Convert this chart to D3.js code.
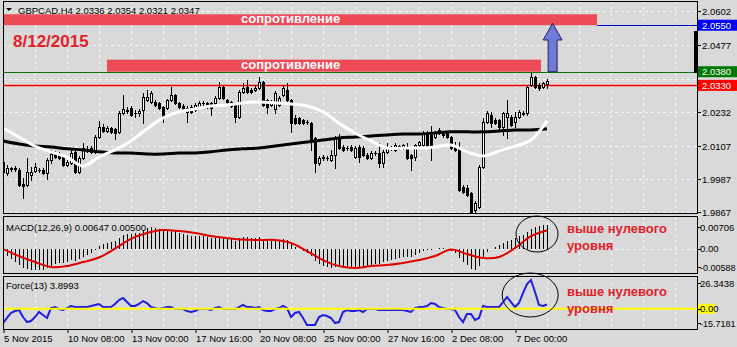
<!DOCTYPE html>
<html><head><meta charset="utf-8">
<script src="https://cdn.jsdelivr.net/npm/d3@7"></script>
<style>
body{margin:0;background:#d9d9d9}
svg{display:block}
text{font-family:"Liberation Sans",Arial,sans-serif}
</style>
</head><body>
<svg id="c" width="737" height="347"></svg>
<script>
// ---------------- DATA ----------------
const titleText = "GBPCAD.H4  2.0336 2.0354 2.0321 2.0347";
const dateText = "8/12/2015";
const zoneLabel = "сопротивление";
const noteLines = ["выше нулевого", "уровня"];

const open = [2.0050,2.0010,2.0025,2.0028,2.0021,1.9970,1.9966,2.0003,2.0017,2.0021,
2.0021,2.0010,2.0057,2.0083,2.0083,2.0068,2.0039,2.0046,2.0087,2.0014,
2.0065,2.0094,2.0101,2.0087,2.0141,2.0178,2.0163,2.0174,2.0171,2.0160,
2.0229,2.0240,2.0247,2.0229,2.0229,2.0240,2.0277,2.0269,2.0269,2.0266,
2.0251,2.0247,2.0277,2.0295,2.0266,2.0255,2.0233,2.0251,2.0240,2.0251,
2.0266,2.0266,2.0266,2.0266,2.0284,2.0324,2.0277,2.0269,2.0258,2.0214,
2.0306,2.0324,2.0313,2.0313,2.0320,2.0342,2.0277,2.0258,2.0244,2.0258,
2.0295,2.0313,2.0277,2.0211,2.0211,2.0203,2.0196,2.0192,2.0138,2.0046,
2.0065,2.0065,2.0057,2.0076,2.0138,2.0105,2.0101,2.0105,2.0068,2.0105,
2.0101,2.0076,2.0065,2.0083,2.0083,2.0046,2.0087,2.0101,2.0094,2.0105,
2.0101,2.0101,2.0076,2.0068,2.0112,2.0112,2.0156,2.0149,2.0141,2.0156,
2.0152,2.0156,2.0141,2.0105,2.0101,1.9959,1.9955,1.9937,1.9874,1.9886,
2.0032,2.0196,2.0222,2.0203,2.0203,2.0178,2.0214,2.0214,2.0196,2.0214,
2.0225,2.0229,2.0331,2.0361,2.0331,2.0324,2.0336];
const close = [2.0014,2.0028,2.0028,2.0025,1.9966,1.9962,2.0014,2.0014,2.0032,2.0020,
2.0010,2.0057,2.0079,2.0068,2.0065,2.0039,2.0050,2.0083,2.0014,2.0065,
2.0101,2.0098,2.0087,2.0141,2.0178,2.0163,2.0174,2.0160,2.0156,2.0229,
2.0244,2.0236,2.0222,2.0228,2.0236,2.0288,2.0288,2.0302,2.0258,2.0247,
2.0214,2.0277,2.0295,2.0266,2.0251,2.0240,2.0247,2.0233,2.0258,2.0266,
2.0265,2.0251,2.0247,2.0284,2.0324,2.0284,2.0269,2.0255,2.0214,2.0306,
2.0320,2.0306,2.0306,2.0320,2.0342,2.0258,2.0251,2.0269,2.0302,2.0284,
2.0320,2.0277,2.0192,2.0192,2.0192,2.0192,2.0195,2.0127,2.0046,2.0065,
2.0068,2.0064,2.0076,2.0138,2.0101,2.0094,2.0100,2.0094,2.0101,2.0068,
2.0076,2.0065,2.0083,2.0082,2.0046,2.0087,2.0105,2.0100,2.0112,2.0108,
2.0112,2.0065,2.0065,2.0112,2.0123,2.0156,2.0105,2.0105,2.0160,2.0167,
2.0149,2.0141,2.0101,2.0094,1.9948,1.9941,1.9930,1.9867,1.9900,2.0032,
2.0196,2.0229,2.0192,2.0192,2.0178,2.0229,2.0229,2.0185,2.0214,2.0233,
2.0229,2.0324,2.0361,2.0324,2.0320,2.0339,2.0347];
const high = [2.0119,2.0039,2.0032,2.0035,2.0028,1.9992,2.0065,2.0032,2.0046,2.0028,
2.0028,2.0065,2.0094,2.0090,2.0087,2.0076,2.0057,2.0094,2.0101,2.0072,
2.0119,2.0108,2.0108,2.0149,2.0200,2.0189,2.0181,2.0178,2.0174,2.0236,
2.0295,2.0251,2.0255,2.0240,2.0244,2.0302,2.0313,2.0309,2.0277,2.0269,
2.0255,2.0280,2.0324,2.0298,2.0269,2.0262,2.0255,2.0258,2.0266,2.0273,
2.0273,2.0269,2.0269,2.0291,2.0342,2.0328,2.0280,2.0273,2.0262,2.0313,
2.0339,2.0350,2.0320,2.0331,2.0361,2.0346,2.0280,2.0277,2.0309,2.0291,
2.0328,2.0339,2.0280,2.0222,2.0214,2.0207,2.0203,2.0196,2.0141,2.0072,
2.0076,2.0072,2.0094,2.0145,2.0152,2.0112,2.0108,2.0112,2.0108,2.0112,
2.0108,2.0083,2.0090,2.0090,2.0119,2.0094,2.0119,2.0108,2.0119,2.0112,
2.0116,2.0119,2.0079,2.0116,2.0127,2.0163,2.0163,2.0181,2.0163,2.0174,
2.0160,2.0160,2.0145,2.0123,2.0123,1.9966,1.9966,1.9941,1.9908,2.0039,
2.0211,2.0236,2.0233,2.0211,2.0207,2.0233,2.0277,2.0222,2.0233,2.0240,
2.0236,2.0328,2.0375,2.0364,2.0339,2.0342,2.0354];
const low = [2.0006,2.0003,2.0017,2.0017,1.9962,1.9919,1.9962,1.9984,2.0014,2.0014,
2.0006,1.9988,2.0046,2.0065,2.0061,2.0035,2.0035,2.0043,2.0010,2.0010,
2.0061,2.0087,2.0083,2.0083,2.0138,2.0160,2.0160,2.0156,2.0134,2.0156,
2.0225,2.0229,2.0218,2.0214,2.0218,2.0192,2.0273,2.0266,2.0255,2.0244,
2.0196,2.0244,2.0273,2.0262,2.0247,2.0236,2.0196,2.0229,2.0236,2.0247,
2.0258,2.0247,2.0222,2.0262,2.0280,2.0280,2.0262,2.0251,2.0196,2.0211,
2.0302,2.0302,2.0302,2.0309,2.0317,2.0255,2.0229,2.0255,2.0229,2.0255,
2.0291,2.0273,2.0160,2.0189,2.0189,2.0189,2.0189,2.0094,2.0014,2.0039,
2.0057,2.0057,2.0054,2.0028,2.0098,2.0090,2.0094,2.0090,2.0065,2.0050,
2.0072,2.0061,2.0061,2.0076,2.0032,2.0032,2.0083,2.0094,2.0090,2.0098,
2.0098,2.0061,2.0021,2.0057,2.0108,2.0108,2.0101,2.0057,2.0138,2.0152,
2.0141,2.0138,2.0098,2.0090,1.9944,1.9937,1.9926,1.9863,1.9867,1.9882,
2.0028,2.0192,2.0178,2.0189,2.0167,2.0149,2.0138,2.0181,2.0178,2.0211,
2.0222,2.0222,2.0328,2.0320,2.0313,2.0320,2.0321];

// moving averages, sampled every 4 bars
const maBars = d3.range(0, 137, 4);
const maFast = [2.0174,2.0141,2.0108,2.0087,2.0068,2.0035,2.0068,2.0094,2.0127,2.0171,2.0211,2.0233,2.0244,2.0255,2.0258,2.0266,2.0269,2.0266,2.0262,2.0255,2.0233,2.0192,2.0156,2.0127,2.0101,2.0101,2.0101,2.0105,2.0112,2.0087,2.0072,2.0090,2.0108,2.0130,2.0200];
const maSlow = [2.0127,2.0116,2.0108,2.0105,2.0098,2.0094,2.0087,2.0083,2.0083,2.0079,2.0079,2.0083,2.0083,2.0087,2.0094,2.0098,2.0101,2.0108,2.0116,2.0123,2.0130,2.0138,2.0141,2.0145,2.0149,2.0152,2.0152,2.0156,2.0160,2.0160,2.0160,2.0163,2.0167,2.0167,2.0171];

// MACD(12,26,9)
const macdHist = [-0.00121,-0.00204,-0.00286,-0.00369,-0.00451,-0.00534,-0.00562,-0.00585,-0.00585,-0.00585,
-0.00585,-0.00534,-0.00479,-0.00424,-0.00396,-0.00396,-0.00369,-0.00314,-0.00341,-0.00286,
-0.00231,-0.00176,-0.00121,-0.00039,0.00072,0.00127,0.00154,0.00182,0.00209,0.00292,
0.00374,0.00402,0.00402,0.00429,0.00429,0.00512,0.00567,0.00595,0.00567,0.00540,
0.00485,0.00485,0.00512,0.00485,0.00429,0.00402,0.00374,0.00347,0.00347,0.00347,
0.00347,0.00319,0.00292,0.00292,0.00347,0.00319,0.00292,0.00264,0.00209,0.00292,
0.00319,0.00319,0.00292,0.00292,0.00319,0.00264,0.00209,0.00209,0.00237,0.00237,
0.00264,0.00237,0.00127,0.00044,-0.00011,-0.00066,-0.00121,-0.00204,-0.00341,-0.00424,
-0.00479,-0.00507,-0.00534,-0.00507,-0.00507,-0.00534,-0.00534,-0.00534,-0.00507,-0.00507,
-0.00507,-0.00479,-0.00451,-0.00424,-0.00424,-0.00369,-0.00341,-0.00314,-0.00286,-0.00259,
-0.00231,-0.00231,-0.00231,-0.00176,-0.00121,-0.00066,-0.00039,-0.00039,-0.00011,0.00017,
0.00017,-0.00011,-0.00066,-0.00121,-0.00259,-0.00369,-0.00451,-0.00562,-0.00585,-0.00479,
-0.00259,-0.00094,-0.00011,0.00044,0.00099,0.00154,0.00209,0.00237,0.00292,0.00347,
0.00374,0.00457,0.00540,0.00595,0.00622,0.00640,0.00647];
const macdSignal = [-0.00011,-0.00204,-0.00369,-0.00507,-0.00479,-0.00369,-0.00245,0.00000,0.00270,0.00429,0.00512,0.00485,0.00429,0.00347,0.00292,0.00250,0.00237,0.00237,0.00154,-0.00066,-0.00314,-0.00479,-0.00534,-0.00479,-0.00451,-0.00396,-0.00314,-0.00204,-0.00025,-0.00149,-0.00259,-0.00231,0.00017,0.00347,0.00500];

// Force(13)
const force = [-13.0,-8.4,-3.8,-2.0,-1.1,-7.5,-12.1,-11.2,-7.5,-2.9,
-5.7,-8.4,0.7,1.6,-0.2,-1.1,0.7,2.6,1.6,1.6,
1.6,1.6,2.6,3.5,4.4,1.6,1.6,1.6,4.4,8.0,
9.9,6.2,2.6,2.6,4.4,7.1,5.3,1.6,0.7,-0.2,
0.7,1.6,1.6,-0.2,-0.2,-0.2,-2.0,-2.9,-2.0,-0.2,
-0.2,-0.2,-1.1,0.7,1.6,-0.2,-0.2,-0.2,-0.2,1.6,
3.5,1.6,1.6,0.7,1.6,-1.1,-2.0,-2.0,-0.2,0.7,
2.6,0.7,-7.5,-3.8,-2.9,-8.4,-14.8,-14.8,-14.8,-7.5,
-5.7,-6.6,-8.4,-13.0,-12.1,-2.9,-1.1,-2.0,-2.0,-1.1,
-2.9,-0.2,-0.2,-0.2,-1.1,-1.1,-1.1,-1.1,-1.1,-1.1,
-1.1,-2.0,-2.9,0.7,1.6,1.6,2.6,5.3,4.4,1.6,
0.7,-0.2,-0.2,-1.1,-7.5,-12.1,-4.8,-4.8,-10.2,-8.4,
2.6,1.6,1.6,1.6,1.6,6.2,10.8,6.2,1.6,5.3,
14.4,22.7,26.3,15.4,3.5,2.6,3.9];

// axes
const priceGrid = [2.0602, 2.0477, 2.0355, 2.0232, 2.0107, 1.9987, 1.9867];
const priceTicks = [2.0602, 2.0477, 2.0232, 2.0107, 1.9987, 1.9867];
const macdTicks = [0.00706, 0, -0.00588];
const macdTickLabels = ["0.00706", "0.00", "-0.00588"];
const forceTicks = [26.3438, 0, -15.7181];
const forceTickLabels = ["26.3438", "0.00", "-15.7181"];
const timeTickBars = [0, 16, 32, 48, 64, 80, 96, 112, 128];
const timeTickLabels = ["5 Nov 2015", "10 Nov 08:00", "13 Nov 00:00", "17 Nov 16:00", "20 Nov 08:00", "25 Nov 00:00", "27 Nov 16:00", "2 Dec 08:00", "7 Dec 00:00"];

// levels & annotations
const levelPrices = [2.0550, 2.0380, 2.0330];
const levelLabels = ["2.0550", "2.0380", "2.0330"];
const levelColors = ["#0000ff", "#007a00", "#ff0000"];
const zoneLow = [2.0550, 2.0380];
const zoneHigh = [2.0590, 2.0424];
const zoneStartBar = [0, 26];
const zoneEndBar = [148.5, 134.5];
const arrowBar = 137.4, arrowFrom = 2.0380, arrowHead = 2.0496, arrowTip = 2.0557;

// ---------------- DRAWING ----------------
const svg = d3.select("#c");
const L = 3, R = 697;
const mainTop = 1, mainBot = 213, macdTop = 216, macdBot = 273, frcTop = 276, frcBot = 329;
const x = d3.scaleLinear().domain([0, 173.5]).range([L, R]);
const yP = d3.scaleLinear().domain([1.9867, 2.0602]).range([212, 11]);
const yM = d3.scaleLinear().domain([-0.00588, 0.00706]).range([270, 223]);
const yF = d3.scaleLinear().domain([-15.7181, 26.3438]).range([326, 280]);
const RED = "#e3202a";

svg.append("rect").attr("width", 737).attr("height", 347).attr("fill", "#d9d9d9");

const defs = svg.append("defs");
[["cm", mainTop, mainBot], ["cd", macdTop, macdBot], ["cf", frcTop, frcBot]].forEach(([id, t, b]) => {
  defs.append("clipPath").attr("id", id).append("rect")
    .attr("x", L + 1).attr("y", t + 1).attr("width", R - L - 1).attr("height", b - t - 1);
});

// grids
const gridBars = d3.range(8, 173, 8);
function vgrid(g, t, b) {
  g.selectAll(null).data(gridBars).enter().append("line")
    .attr("x1", d => Math.round(x(d)) + 0.5).attr("x2", d => Math.round(x(d)) + 0.5)
    .attr("y1", t).attr("y2", b)
    .attr("stroke", "#f6f6f6").attr("stroke-dasharray", "3,3").attr("shape-rendering", "crispEdges");
}
function hgrid(g, ys) {
  g.selectAll(null).data(ys).enter().append("line")
    .attr("x1", L).attr("x2", R)
    .attr("y1", d => Math.round(d) + 0.5).attr("y2", d => Math.round(d) + 0.5)
    .attr("stroke", "#f6f6f6").attr("stroke-dasharray", "3,3").attr("shape-rendering", "crispEdges");
}

const gMain = svg.append("g").attr("clip-path", "url(#cm)");
vgrid(gMain, mainTop, mainBot);
hgrid(gMain, priceGrid.map(yP));

const gMacd = svg.append("g").attr("clip-path", "url(#cd)");
vgrid(gMacd, macdTop, macdBot);
hgrid(gMacd, [yM(0)]);

const gFrc = svg.append("g").attr("clip-path", "url(#cf)");
vgrid(gFrc, frcTop, frcBot);

// resistance zones
zoneLow.forEach((lo, k) => {
  gMain.append("rect")
    .attr("x", x(zoneStartBar[k])).attr("y", yP(zoneHigh[k]))
    .attr("width", x(zoneEndBar[k]) - x(zoneStartBar[k])).attr("height", yP(lo) - yP(zoneHigh[k]))
    .attr("fill", "#ec4b55");
  gMain.append("text").attr("x", 241).attr("y", yP(lo) - 2.5)
    .attr("fill", "#fff").attr("font-weight", "bold").attr("font-size", "13px").text(zoneLabel);
});

// level lines
gMain.append("line").attr("x1", x(zoneEndBar[0])).attr("x2", R).attr("y1", Math.round(yP(levelPrices[0])) + 0.5).attr("y2", Math.round(yP(levelPrices[0])) + 0.5).attr("stroke", "#0000cc");
gMain.append("line").attr("x1", L).attr("x2", R).attr("y1", Math.round(yP(levelPrices[1])) + 0.5).attr("y2", Math.round(yP(levelPrices[1])) + 0.5).attr("stroke", "#107010");
gMain.append("line").attr("x1", L).attr("x2", R).attr("y1", Math.round(yP(levelPrices[2])) + 0.5).attr("y2", Math.round(yP(levelPrices[2])) + 0.5).attr("stroke", "#f2a0a0").attr("stroke-width", 3);
gMain.append("line").attr("x1", L).attr("x2", R).attr("y1", Math.round(yP(levelPrices[2])) + 0.5).attr("y2", Math.round(yP(levelPrices[2])) + 0.5).attr("stroke", "#e00000");

// candles
const gC = gMain.append("g").attr("shape-rendering", "crispEdges");
open.forEach((o, i) => {
  const c = close[i];
  const cx = Math.round(x(i)) + 0.5;
  const hi = Math.max(high[i], o, c), lo = Math.min(low[i], o, c);
  gC.append("line").attr("x1", cx).attr("x2", cx)
    .attr("y1", Math.round(yP(hi))).attr("y2", Math.round(yP(lo)) + 1).attr("stroke", "#000");
  const T = Math.round(yP(Math.max(o, c))), B = Math.round(yP(Math.min(o, c)));
  if (c >= o && B - T >= 2) {
    gC.append("rect").attr("x", cx - 1).attr("y", T + 0.5).attr("width", 2).attr("height", B - T)
      .attr("fill", "#fff").attr("stroke", "#000");
  } else {
    gC.append("rect").attr("x", cx - 1.5).attr("y", T).attr("width", 3).attr("height", Math.max(1, B - T + 1))
      .attr("fill", "#000");
  }
});

// moving averages
const maLine = d3.line().x((d, k) => x(maBars[k])).y(d => yP(d)).curve(d3.curveCatmullRom);
gMain.append("path").attr("d", maLine(maSlow)).attr("fill", "none").attr("stroke", "#000").attr("stroke-width", 3);
gMain.append("path").attr("d", maLine(maFast)).attr("fill", "none").attr("stroke", "#fff").attr("stroke-width", 3);

// arrow
const ax = x(arrowBar);
const ap = [[ax, yP(arrowTip)], [ax + 9.5, yP(arrowHead)], [ax + 4.5, yP(arrowHead)], [ax + 4.5, yP(arrowFrom)],
            [ax - 4.5, yP(arrowFrom)], [ax - 4.5, yP(arrowHead)], [ax - 9.5, yP(arrowHead)]];
gMain.append("path").attr("d", "M" + ap.join("L") + "Z").attr("fill", "#6f7bd6").attr("stroke", "#202060").attr("stroke-width", 1);

// title & date
svg.append("path").attr("d", "M6,8L12,8L9,11Z").attr("fill", "#000");
svg.append("text").attr("x", 18).attr("y", 13.5).attr("font-size", "9.5px").attr("fill", "#000").text(titleText);
svg.append("text").attr("x", 13).attr("y", 47).attr("font-size", "17px").attr("font-weight", "bold").attr("fill", RED).text(dateText);

// MACD
const z0 = Math.round(yM(0));
gMacd.append("g").attr("shape-rendering", "crispEdges").selectAll("line").data(macdHist).enter().append("line")
  .attr("x1", (d, i) => Math.round(x(i)) + 0.5).attr("x2", (d, i) => Math.round(x(i)) + 0.5)
  .attr("y1", z0).attr("y2", d => Math.round(yM(d))).attr("stroke", "#000");
const sigLine = d3.line().x((d, k) => x(maBars[k])).y(d => yM(d)).curve(d3.curveCatmullRom);
gMacd.append("path").attr("d", sigLine(macdSignal)).attr("fill", "none").attr("stroke", "#e00000").attr("stroke-width", 2);
svg.append("text").attr("x", 6).attr("y", 230.5).attr("font-size", "9.5px").text("MACD(12,26,9) 0.00647 0.00500");

// Force
const fLine = d3.line().x((d, i) => x(i)).y(d => yF(d));
gFrc.append("path").attr("d", fLine(force)).attr("fill", "none").attr("stroke", "#1e1ee0").attr("stroke-width", 2);
gFrc.append("line").attr("x1", L).attr("x2", R).attr("y1", yF(0)).attr("y2", yF(0)).attr("stroke", "#ffff00").attr("stroke-width", 2);
svg.append("text").attr("x", 6).attr("y", 288.5).attr("font-size", "9.5px").text("Force(13) 3.8993");

// ellipses and notes
svg.append("ellipse").attr("cx", x(133.5)).attr("cy", 234).attr("rx", 21).attr("ry", 18).attr("fill", "none").attr("stroke", "#000");
svg.append("ellipse").attr("cx", x(131.8)).attr("cy", 295).attr("rx", 28).attr("ry", 22).attr("fill", "none").attr("stroke", "#000");
[[233, 249.5], [296, 313]].forEach(([b1, b2]) => {
  svg.append("text").attr("x", 567).attr("y", b1).attr("font-size", "13px").attr("font-weight", "bold").attr("fill", RED).text(noteLines[0]);
  svg.append("text").attr("x", 567).attr("y", b2).attr("font-size", "13px").attr("font-weight", "bold").attr("fill", RED).text(noteLines[1]);
});

// panel borders
[[mainTop, mainBot], [macdTop, macdBot], [frcTop, frcBot]].forEach(([t, b]) => {
  svg.append("rect").attr("x", L + 0.5).attr("y", t + 0.5).attr("width", R - L).attr("height", b - t)
    .attr("fill", "none").attr("stroke", "#000").attr("shape-rendering", "crispEdges");
});
// current-price marker bar
svg.append("rect").attr("x", R - 3).attr("y", 31).attr("width", 3).attr("height", 42).attr("fill", "#000");

// right price axis
const axG = svg.append("g").attr("font-size", "9.5px");
priceTicks.forEach(v => {
  const yy = Math.round(yP(v)) + 0.5;
  axG.append("line").attr("x1", R).attr("x2", R + 4).attr("y1", yy).attr("y2", yy).attr("stroke", "#000");
  axG.append("text").attr("x", 702).attr("y", yP(v) + 3.5).text(v.toFixed(4));
});
levelPrices.forEach((p, k) => {
  const yy = yP(p);
  axG.append("rect").attr("x", R + 1).attr("y", yy - 5.5).attr("width", 737 - R - 1).attr("height", 11).attr("fill", levelColors[k]);
  axG.append("text").attr("x", 702).attr("y", yy + 3.5).attr("fill", "#fff").text(levelLabels[k]);
});
const mAdj = [4, 0, -3];
macdTicks.forEach((v, k) => {
  const yy = yM(v) + mAdj[k];
  axG.append("line").attr("x1", R).attr("x2", R + 4).attr("y1", Math.round(yy) + 0.5).attr("y2", Math.round(yy) + 0.5).attr("stroke", "#000");
  axG.append("text").attr("x", 700).attr("y", yy + 3.5).attr("font-size", v < 0 ? "9px" : null).text(macdTickLabels[k]);
});
const fAdj = [3, 0, -3];
forceTicks.forEach((v, k) => {
  const yy = yF(v) + fAdj[k];
  if (v === 0) axG.append("rect").attr("x", R + 1).attr("y", yy - 5).attr("width", 17).attr("height", 10).attr("fill", "#ffff00");
  axG.append("line").attr("x1", R).attr("x2", R + 4).attr("y1", Math.round(yy) + 0.5).attr("y2", Math.round(yy) + 0.5).attr("stroke", "#000");
  axG.append("text").attr("x", 700).attr("y", yy + 3.5).attr("font-size", v < 0 ? "9px" : null).text(forceTickLabels[k]);
});

// time axis
const tAx = d3.axisBottom(x).tickValues(timeTickBars).tickFormat((d, k) => timeTickLabels[k]).tickSize(4).tickSizeOuter(0);
const tg = svg.append("g").attr("transform", `translate(0.5,${frcBot})`).call(tAx);
tg.select(".domain").remove();
tg.selectAll("text").attr("text-anchor", "start").attr("font-size", "9.5px").attr("fill", "#000")
  .attr("font-family", '"Liberation Sans",Arial,sans-serif').attr("dy", "0.6em").attr("x", 0);
tg.selectAll(".tick line").attr("stroke", "#000");
</script>
</body></html>
